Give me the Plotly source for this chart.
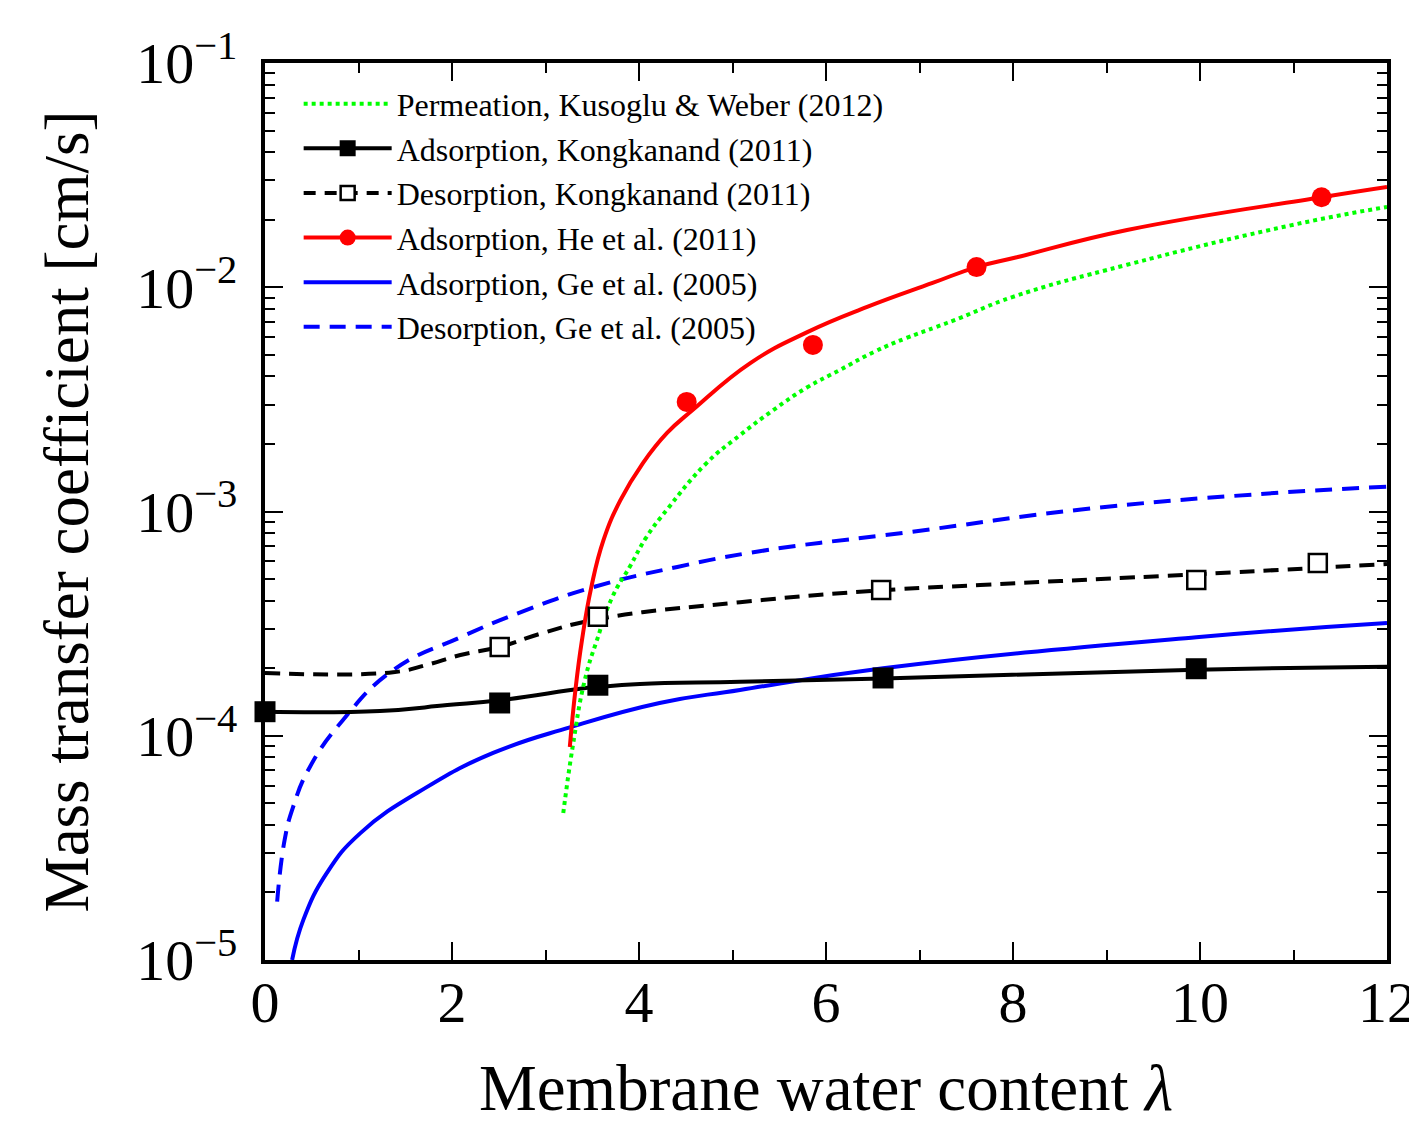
import plotly.graph_objects as go

# ---------------- data ----------------
kw_lam = [3.19, 3.29, 3.42, 3.55, 3.72, 3.90, 4.08, 4.30, 4.72, 5.08, 5.44, 5.79, 6.15, 6.51,
          6.86, 7.18, 7.43, 8.0, 9.22, 11.0, 12.0]
kw_k = [4.52e-5, 8.9e-5, 1.77e-4, 2.67e-4, 4.2e-4, 5.66e-4, 7.69e-4, 1.02e-3, 1.64e-3, 2.19e-3,
        2.84e-3, 3.56e-3, 4.28e-3, 5.14e-3, 5.94e-3, 6.65e-3, 7.29e-3, 9.06e-3, 1.26e-2, 1.90e-2, 2.28e-2]

kad_lam = [0.0, 1.23, 1.95, 2.51, 3.37, 3.56, 4.01, 5.08, 6.61, 9.96, 12.0]
kad_k = [1.28e-4, 1.29e-4, 1.37e-4, 1.44e-4, 1.62e-4, 1.65e-4, 1.70e-4, 1.74e-4, 1.80e-4, 1.97e-4, 2.03e-4]
kad_pts_lam = [0.0, 2.51, 3.56, 6.61, 9.96]
kad_pts_k = [1.28e-4, 1.40e-4, 1.68e-4, 1.81e-4, 1.99e-4]

kde_lam = [0.0, 1.37, 1.73, 2.09, 2.51, 2.97, 3.56, 5.08, 6.59, 7.65, 9.96, 12.0]
kde_k = [1.905e-4, 1.92e-4, 2.07e-4, 2.29e-4, 2.49e-4, 2.87e-4, 3.31e-4, 3.94e-4, 4.45e-4,
         4.70e-4, 5.25e-4, 5.83e-4]
kde_pts_lam = [2.51, 3.56, 6.59, 9.96, 11.26]
kde_pts_k = [2.49e-4, 3.39e-4, 4.47e-4, 4.95e-4, 5.89e-4]

he_lam = [3.26, 3.32, 3.39, 3.49, 3.62, 3.80, 4.04, 4.30, 4.58, 5.19, 5.80, 6.44, 7.14, 7.61,
          8.04, 9.22, 11.30, 12.0]
he_k = [8.91e-5, 1.60e-4, 2.67e-4, 4.60e-4, 7.46e-4, 1.12e-3, 1.64e-3, 2.24e-3, 2.85e-3,
        4.59e-3, 6.31e-3, 8.17e-3, 1.045e-2, 1.23e-2, 1.36e-2, 1.80e-2, 2.52e-2, 2.80e-2]
he_pts_lam = [4.51, 5.86, 7.61, 11.30]
he_pts_k = [3.08e-3, 5.53e-3, 1.23e-2, 2.52e-2]

gad_lam = [0.29, 0.41, 0.66, 1.02, 1.73, 2.44, 3.26, 4.22, 5.08, 6.61, 9.96, 12.0]
gad_k = [1.0e-5, 1.51e-5, 2.44e-5, 3.68e-5, 5.90e-5, 8.38e-5, 1.09e-4, 1.40e-4, 1.60e-4,
         2.00e-4, 2.75e-4, 3.18e-4]

gde_lam = [0.13, 0.21, 0.30, 0.48, 0.83, 1.37, 2.09, 2.80, 3.51, 4.41, 5.29, 6.91, 8.73, 10.56, 12.0]
gde_k = [1.82e-5, 3.43e-5, 4.81e-5, 7.26e-5, 1.17e-4, 1.96e-4, 2.75e-4, 3.64e-4, 4.60e-4,
         5.66e-4, 6.65e-4, 8.11e-4, 1.02e-3, 1.19e-3, 1.29e-3]

names = ["Permeation, Kusoglu &amp; Weber (2012)",
         "Adsorption, Kongkanand (2011)",
         "Desorption, Kongkanand (2011)",
         "Adsorption, He et al. (2011)",
         "Adsorption, Ge et al. (2005)",
         "Desorption, Ge et al. (2005)"]

x_ticks = [0, 2, 4, 6, 8, 10, 12]
y_ticks = [1e-5, 1e-4, 1e-3, 1e-2, 1e-1]
y_ticktext = ["10<sup>−5</sup>", "10<sup>−4</sup>", "10<sup>−3</sup>", "10<sup>−2</sup>", "10<sup>−1</sup>"]

# ---------------- styles ----------------
FONT = "Liberation Serif"
LW = 4
GREEN, BLACK, RED, BLUE = "#00ff00", "#000000", "#ff0000", "#0000ff"
DASH_K = "15px,9px"
DASH_B = "17px,10px"

fig = go.Figure()

def curve(x, y, color, dash, group):
    fig.add_trace(go.Scatter(x=x, y=y, mode="lines",
                             line=dict(color=color, width=LW, dash=dash, shape="spline", smoothing=1.3),
                             showlegend=False, legendgroup=group, hoverinfo="skip"))

def points(x, y, marker, group):
    fig.add_trace(go.Scatter(x=x, y=y, mode="markers", marker=marker, showlegend=False,
                             legendgroup=group, cliponaxis=False))

def legend_entry(name, line, marker, mode, group):
    fig.add_trace(go.Scatter(x=[None], y=[None], mode=mode, name=name, line=line, marker=marker,
                             legendgroup=group))

sq_fill = dict(symbol="square", size=21, color=BLACK, line=dict(width=0))
sq_open = dict(symbol="square", size=18, color="white", line=dict(width=2.5, color=BLACK))
circ = dict(symbol="circle", size=20, color=RED, line=dict(width=0))

curve(gde_lam, gde_k, BLUE, DASH_B, "g6")
curve(gad_lam, gad_k, BLUE, "solid", "g5")
curve(kde_lam, kde_k, BLACK, DASH_K, "g3")
curve(kad_lam, kad_k, BLACK, "solid", "g2")
curve(kw_lam, kw_k, GREEN, "dot", "g1")
curve(he_lam, he_k, RED, "solid", "g4")
points(kde_pts_lam, kde_pts_k, sq_open, "g3")
points(kad_pts_lam, kad_pts_k, sq_fill, "g2")
points(he_pts_lam, he_pts_k, circ, "g4")

legend_entry(names[0], dict(color=GREEN, width=LW, dash="dot"), None, "lines", "g1")
legend_entry(names[1], dict(color=BLACK, width=LW), dict(symbol="square", size=16, color=BLACK), "lines+markers", "g2")
legend_entry(names[2], dict(color=BLACK, width=LW, dash="12px,9px"),
             dict(symbol="square", size=14, color="white", line=dict(width=2.5, color=BLACK)), "lines+markers", "g3")
legend_entry(names[3], dict(color=RED, width=LW), dict(symbol="circle", size=16, color=RED), "lines+markers", "g4")
legend_entry(names[4], dict(color=BLUE, width=LW), None, "lines", "g5")
legend_entry(names[5], dict(color=BLUE, width=LW, dash="16px,10px"), None, "lines", "g6")

axis_common = dict(showline=True, linewidth=4, linecolor=BLACK, mirror="allticks", ticks="inside",
                   tickwidth=2, tickcolor=BLACK, showgrid=False, zeroline=False,
                   ticklabeloverflow="allow", automargin=False,
                   tickfont=dict(family=FONT, size=58, color=BLACK))

fig.update_xaxes(range=[0, 12], tickvals=x_ticks, ticklen=18,
                 minor=dict(dtick=1, ticks="inside", ticklen=10, tickwidth=2, tickcolor=BLACK),
                 title=dict(text="Membrane water content <i>λ</i>", font=dict(family=FONT, size=65, color=BLACK), standoff=52),
                 ticklabelstandoff=-12,
                 **axis_common)

minor_y = [m * 10.0 ** e for e in range(-5, -1) for m in range(2, 10)]
fig.update_yaxes(type="log", range=[-5, -1], tickvals=y_ticks, ticktext=y_ticktext, ticklen=18,
                 minor=dict(tickvals=minor_y, ticks="inside", ticklen=10, tickwidth=2, tickcolor=BLACK),
                 title=dict(text="Mass transfer coefficient [cm/s]", font=dict(family=FONT, size=63, color=BLACK), standoff=28),
                 ticklabelstandoff=12,
                 **axis_common)

fig.update_layout(
    width=1409, height=1124, autosize=False,
    margin=dict(l=265, r=22, t=63, b=164),
    paper_bgcolor="white", plot_bgcolor="white",
    font=dict(family=FONT, color=BLACK),
    legend=dict(x=0.03, y=0.985, xanchor="left", yanchor="top", bgcolor="rgba(0,0,0,0)",
                borderwidth=0, itemwidth=88, font=dict(family=FONT, size=32, color=BLACK),
                tracegroupgap=0),
)

fig.write_html("out.html")
